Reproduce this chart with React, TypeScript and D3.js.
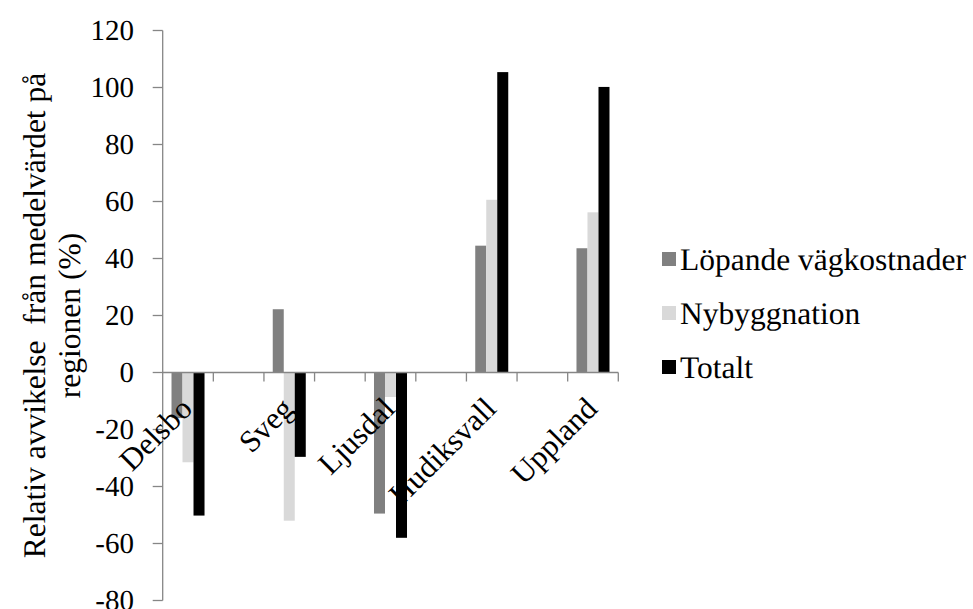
import React from "react";
import * as d3 from "d3";

// Regions along the category axis
const categories = ["Delsbo", "Sveg", "Ljusdal", "Hudiksvall", "Uppland"];

// Series: relative deviation from the regional mean (%)
const seriesNames = ["Löpande vägkostnader", "Nybyggnation", "Totalt"];
const lopandeVagkostnader = [-16, 22.2, -49.5, 44.5, 43.6];
const nybyggnation = [-31.5, -52, -8.6, 60.6, 56.2];
const totalt = [-50.2, -29.6, -58, 105.4, 100.2];

const yTicks = [-80, -60, -40, -20, 0, 20, 40, 60, 80, 100, 120];

const yTitleLines = ["Relativ avvikelse  från medelvärdet på", "regionen (%)"];

const colors = ["#808080", "#d9d9d9", "#000000"];
const axisColor = "#868686";
const font = "Liberation Serif, Times New Roman, serif";

export default function App() {
  const width = 973;
  const height = 609;

  const plotLeft = 162.7;
  const plotRight = 618.3;
  const plotTop = 30.5;
  const plotBottom = 600.5;

  const y = d3.scaleLinear().domain([-80, 120]).range([plotBottom, plotTop]);

  // Each region sits in its own slot, followed by an empty spacer slot
  const slotCount = categories.length * 2 - 1;
  const slots = d3.range(slotCount);
  const x = d3.scaleBand<number>().domain(slots).range([plotLeft, plotRight]).paddingInner(0).paddingOuter(0);
  const xSeries = d3
    .scaleBand<number>()
    .domain(d3.range(seriesNames.length))
    .range([0, x.bandwidth()])
    .paddingInner(0)
    .paddingOuter(0.8);

  const seriesValues = [lopandeVagkostnader, nybyggnation, totalt];
  const y0 = y(0);

  const tickBoundaries = slots.map((s) => (x(s) as number) + x.bandwidth());

  const textStyle = { fontFamily: font } as React.CSSProperties;

  return (
    <svg
      width={width}
      height={height}
      textRendering="geometricPrecision"
      style={{ position: "absolute", left: 0, top: 0, background: "#fff" }}
    >
      <rect x={0} y={0} width={width} height={height} fill="#fff" />

      {/* bars */}
      {categories.map((cat, ci) => {
        const slotX = x(ci * 2) as number;
        return (
          <g key={cat} transform={`translate(${slotX},0)`}>
            {seriesValues.map((vals, si) => {
              const v = vals[ci];
              const top = Math.min(y(v), y0);
              const h = Math.abs(y(v) - y0);
              return (
                <rect
                  key={si}
                  x={xSeries(si)}
                  y={top}
                  width={xSeries.bandwidth()}
                  height={h}
                  fill={colors[si]}
                />
              );
            })}
          </g>
        );
      })}

      {/* y axis */}
      <line x1={plotLeft} x2={plotLeft} y1={plotTop} y2={plotBottom} stroke={axisColor} strokeWidth={1.3} />
      {yTicks.map((t) => (
        <g key={t}>
          <line x1={plotLeft - 10} x2={plotLeft} y1={y(t)} y2={y(t)} stroke={axisColor} strokeWidth={1.3} />
          <text
            transform={`translate(134,${y(t) + 9.5})`}
            textAnchor="end"
            style={textStyle}
            fontSize={29}
            fill="#000"
          >
            {t}
          </text>
        </g>
      ))}

      {/* x axis at zero */}
      <line x1={plotLeft} x2={plotRight} y1={y0} y2={y0} stroke={axisColor} strokeWidth={1.3} />
      {tickBoundaries.map((bx, i) => (
        <line key={i} x1={bx} x2={bx} y1={y0} y2={y0 + 9} stroke={axisColor} strokeWidth={1.3} />
      ))}

      {/* category labels, rotated */}
      {categories.map((cat, ci) => {
        const cx = (x(ci * 2) as number) + x.bandwidth() / 2;
        return (
          <text
            key={cat}
            transform={`translate(${cx + 6},${y0 + 38}) rotate(-45)`}
            textAnchor="end"
            style={textStyle}
            fontSize={31}
            fill="#000"
          >
            {cat}
          </text>
        );
      })}

      {/* y axis title */}
      {yTitleLines.map((line, i) => (
        <text
          key={i}
          transform={`translate(${45 + i * 35},${(plotTop + plotBottom) / 2}) rotate(-90)`}
          textAnchor="middle"
          style={{ ...textStyle, whiteSpace: "pre" }}
          fontSize={31.5}
          fill="#000"
        >
          {line}
        </text>
      ))}

      {/* legend */}
      {seriesNames.map((name, i) => {
        const cy = 259 + i * 54;
        return (
          <g key={name}>
            <rect x={662} y={cy - 7} width={14} height={14} fill={colors[i]} />
            <text
              transform={`translate(680,${cy + 10.5})`}
              style={textStyle}
              fontSize={31.5}
              fill="#000"
            >
              {name}
            </text>
          </g>
        );
      })}
    </svg>
  );
}
